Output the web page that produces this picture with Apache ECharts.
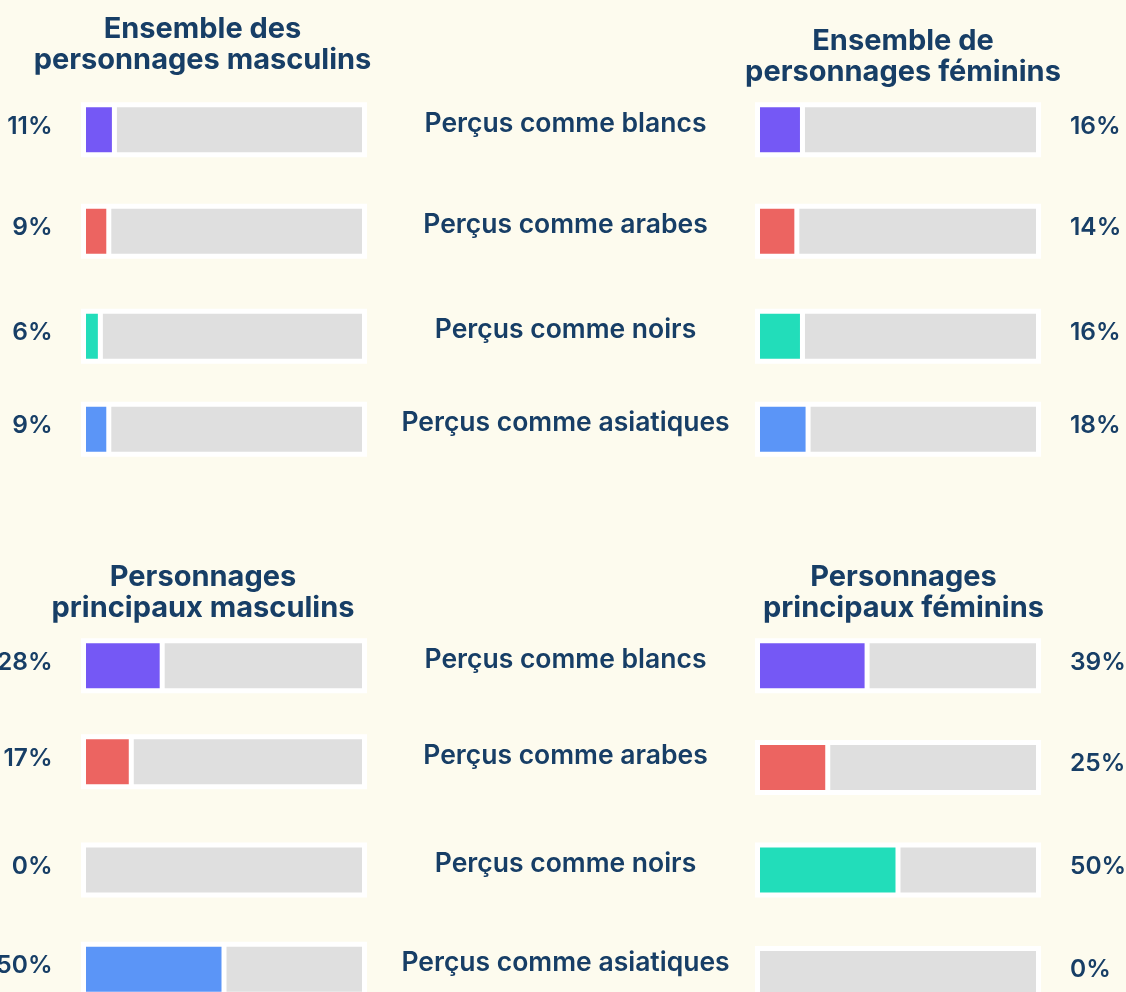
<!DOCTYPE html>
<html><head><meta charset="utf-8">
<script src="https://cdn.jsdelivr.net/npm/echarts@6/dist/echarts.min.js"></script>
<style>html,body{margin:0;padding:0;background:#FDFBEE}#c{width:1126px;height:992px}</style>
</head><body><div id="c"></div><script>
// ---- data ----
const categories = ['Perçus comme blancs', 'Perçus comme arabes', 'Perçus comme noirs', 'Perçus comme asiatiques'];
const panelTitles = ['Ensemble des\npersonnages masculins', 'Ensemble de\npersonnages féminins', 'Personnages\nprincipaux masculins', 'Personnages\nprincipaux féminins'];
const allMale = [11, 9, 6, 9];
const allFemale = [16, 14, 16, 18];
const leadMale = [28, 17, 0, 50];
const leadFemale = [39, 25, 50, 0];

// ---- style / layout ----
const barColors = ['#7558F5', '#EC6461', '#22DDBA', '#5B95F7'];
const restColor = '#DFDFDF';
const textColor = '#173E66';
const FONT = 'Inter';
const panels = [
  { values: allMale, side: 'left', left: 83.5, centers: [129.7, 231.2, 336.2, 429.2], titleX: 197.5, titleTop: 9, mid: true },
  { values: allFemale, side: 'right', left: 757.5, centers: [129.7, 231.2, 336.2, 429.2], titleX: 898, titleTop: 21, mid: false },
  { values: leadMale, side: 'left', left: 83.5, centers: [665.8, 761.7, 870, 969.2], titleX: 198, titleTop: 557, mid: true },
  { values: leadFemale, side: 'right', left: 757.5, centers: [665.8, 767.5, 870, 973.5], titleX: 898.5, titleTop: 557, mid: false }
];
const W = 281, B = 50;

const grid = [], xAxis = [], yAxis = [], series = [], title = [];
panels.forEach((p, pi) => {
  title.push({
    text: panelTitles[pi], left: p.titleX, top: p.titleTop, textAlign: 'center',
    textStyle: { fontFamily: FONT, fontSize: 29, fontWeight: 700, color: textColor, lineHeight: 31 }
  });
  p.values.forEach((v, i) => {
    const g = grid.length;
    grid.push({ left: p.left, top: p.centers[i] - B / 2, width: W, height: B, containLabel: false, outerBoundsMode: 'none' });
    xAxis.push({ type: 'value', gridIndex: g, min: 0, max: 100, show: false });
    const yi = yAxis.length;
    yAxis.push({
      type: 'category', gridIndex: g, data: [v + '%'], position: p.side,
      axisLine: { show: false }, axisTick: { show: false }, splitLine: { show: false },
      axisLabel: { margin: p.side === 'left' ? 31 : 31.5, fontFamily: FONT, fontSize: 24.5, fontWeight: 600, color: textColor, verticalAlign: 'bottom', lineHeight: 7 }
    });
    if (p.mid) {
      yAxis.push({
        type: 'category', gridIndex: g, data: [categories[i]], position: 'right',
        axisLine: { show: false }, axisTick: { show: false }, splitLine: { show: false },
        axisLabel: { margin: 201, align: 'center', fontFamily: FONT, fontSize: 26.5, fontWeight: 600, color: textColor, verticalAlign: 'bottom', lineHeight: 12 }
      });
    }
    series.push({
      type: 'bar', xAxisIndex: g, yAxisIndex: yi, stack: 's' + g, barWidth: B, silent: true,
      data: [v],
      itemStyle: { color: barColors[i], borderColor: '#fff', borderWidth: 2.5 },
      showBackground: true,
      backgroundStyle: { color: '#fff', borderColor: '#fff', borderWidth: 5 }
    });
    series.push({
      type: 'bar', xAxisIndex: g, yAxisIndex: yi, stack: 's' + g, barWidth: B, silent: true,
      data: [100 - v],
      itemStyle: { color: restColor, borderColor: '#fff', borderWidth: 2.5 }
    });
  });
});

const chart = echarts.init(document.getElementById('c'));
chart.setOption({ backgroundColor: '#FDFBEE', animation: false, title, grid, xAxis, yAxis, series });
</script></body></html>
